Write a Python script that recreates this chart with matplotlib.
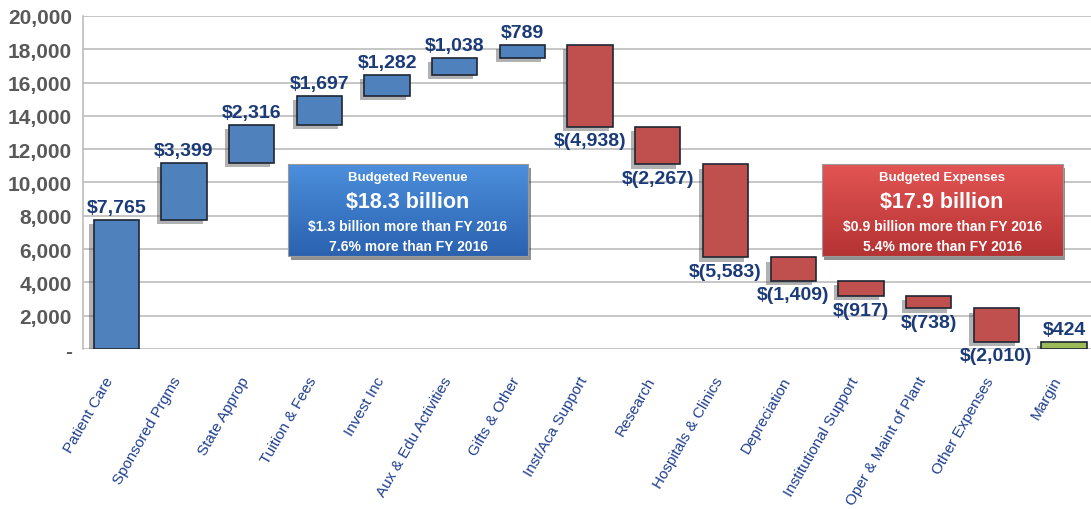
import numpy as np
import matplotlib
matplotlib.use("Agg")
import matplotlib.pyplot as plt
import matplotlib.patheffects as pe
import matplotlib.transforms as mtransforms
from matplotlib.ticker import FuncFormatter

# ----------------------
# DATA ($ millions)
# ----------------------
categories = ["Patient Care", "Sponsored Prgms", "State Approp", "Tuition & Fees",
              "Invest Inc", "Aux & Edu Activities", "Gifts & Other",
              "Inst/Aca Support", "Research", "Hospitals & Clinics", "Depreciation",
              "Institutional Support", "Oper & Maint of Plant", "Other Expenses", "Margin"]
revenue = [7765, 3399, 2316, 1697, 1282, 1038, 789]
expenses = [4938, 2267, 5583, 1409, 917, 738, 2010]
margin = 424

rev_box = ["Budgeted Revenue", "$18.3 billion",
           "$1.3 billion more than FY 2016", "7.6% more than FY 2016"]
exp_box = ["Budgeted Expenses", "$17.9 billion",
           "$0.9 billion more than FY 2016", "5.4% more than FY 2016"]

# ----------------------
# WATERFALL GEOMETRY
# ----------------------
rev_top = np.cumsum(revenue)
rev_bottom = rev_top - np.array(revenue)
exp_top = rev_top[-1] - np.concatenate([[0], np.cumsum(expenses)[:-1]])
exp_bottom = exp_top - np.array(expenses)

x = np.arange(len(categories))
x_rev = x[:len(revenue)]
x_exp = x[len(revenue):len(revenue) + len(expenses)]
x_mar = x[-1]

BLUE, RED, GREEN = "#4f81bd", "#c0504d", "#9bbb59"
EDGE = "#1e2633"
NAVY = "#1b3a78"
width = 0.67

plt.rcParams["font.family"] = ["Liberation Sans", "DejaVu Sans"]

fig = plt.figure(figsize=(10.91, 5.10), dpi=100)
ax = fig.add_axes([0.0761, 0.3137, 0.9239, 0.6530])

shadow = [pe.SimplePatchShadow(offset=(-3, -3), shadow_rgbFace="#555555", alpha=0.45),
          pe.Normal()]

bars_r = ax.bar(x_rev, revenue, bottom=rev_bottom, width=width, color=BLUE,
                edgecolor=EDGE, linewidth=1.2, zorder=3)
bars_e = ax.bar(x_exp, expenses, bottom=exp_bottom, width=width, color=RED,
                edgecolor=EDGE, linewidth=1.2, zorder=3)
bars_m = ax.bar([x_mar], [margin], width=width, color=GREEN,
                edgecolor=EDGE, linewidth=1.2, zorder=3)
for b in list(bars_r) + list(bars_e) + list(bars_m):
    b.set_path_effects(shadow)

# value labels
for xi, top, v in zip(x_rev, rev_top, revenue):
    ax.annotate(f"${v:,}", (xi, top), xytext=(0, 9), textcoords="offset points",
                ha="center", va="center", fontsize=14, fontweight="bold",
                color=NAVY, zorder=5)
for xi, bot, v in zip(x_exp, exp_bottom, expenses):
    ax.annotate(f"$({v:,})", (xi, bot), xytext=(0, -10), textcoords="offset points",
                ha="center", va="center", fontsize=14, fontweight="bold",
                color=NAVY, zorder=5)
ax.annotate(f"${margin:,}", (x_mar, margin), xytext=(0, 9), textcoords="offset points",
            ha="center", va="center", fontsize=14, fontweight="bold",
            color=NAVY, zorder=5)


# summary boxes with a vertical gradient
def summary_box(x0, x1, y0, y1, top_col, bot_col, lines):
    c_top = np.array(matplotlib.colors.to_rgb(top_col))
    c_bot = np.array(matplotlib.colors.to_rgb(bot_col))
    t = np.linspace(0, 1, 64)[:, None]
    grad = (c_top * (1 - t) + c_bot * t)[:, None, :]
    rect = plt.Rectangle((x0, y0), x1 - x0, y1 - y0, facecolor="none",
                         edgecolor="#9a9a9a", linewidth=0.8, zorder=7)
    shadow_rect = plt.Rectangle((x0, y0), x1 - x0, y1 - y0, facecolor="#777777",
                                edgecolor="none", zorder=5)
    shadow_rect.set_path_effects([pe.SimplePatchShadow(offset=(2, -3), alpha=0.5)])
    ax.add_patch(shadow_rect)
    ax.imshow(grad, extent=(x0, x1, y0, y1), aspect="auto", zorder=6,
              interpolation="bilinear")
    ax.add_patch(rect)
    xc = (x0 + x1) / 2
    ys = [y1 - (y1 - y0) * f for f in (0.14, 0.41, 0.67, 0.89)]
    sizes = [9.5, 15.5, 10, 10]
    for s, yy, fs in zip(lines, ys, sizes):
        ax.text(xc, yy, s, ha="center", va="center", color="white",
                fontsize=fs, fontweight="bold", zorder=8)


summary_box(2.54, 6.08, 5590, 11110, "#4c8fdc", "#2a62b0", rev_box)
summary_box(10.42, 13.98, 5590, 11110, "#e35454", "#b53333", exp_box)

# ----------------------
# AXES STYLE
# ----------------------
ax.set_xlim(-0.492, 14.40)
ax.set_ylim(0, 20000)
ax.set_yticks(np.arange(0, 20001, 2000))
ax.yaxis.set_major_formatter(FuncFormatter(lambda v, p: "-" if v == 0 else f"{v:,.0f}"))
ax.grid(axis="y", color="#c6c6c6", linewidth=1.4, zorder=0)
ax.set_axisbelow(True)
for s in ["top", "right", "bottom"]:
    ax.spines[s].set_visible(False)
ax.spines["left"].set_color("#bdbdbd")
ax.spines["left"].set_linewidth(1.2)

ax.tick_params(axis="y", length=0, pad=8, labelsize=15, labelcolor="#595959")
for lbl in ax.get_yticklabels():
    lbl.set_fontweight("bold")

ax.set_xticks(x)
ax.set_xticklabels(categories, rotation=60, ha="right", va="top",
                   rotation_mode="anchor", fontsize=11, color="#1f3f8f")
ax.tick_params(axis="x", length=0, pad=18)
shift = mtransforms.ScaledTranslation(-12 / 100, 0, fig.dpi_scale_trans)
for lbl in ax.get_xticklabels():
    lbl.set_transform(lbl.get_transform() + shift)

plt.savefig("out.png", dpi=100)
